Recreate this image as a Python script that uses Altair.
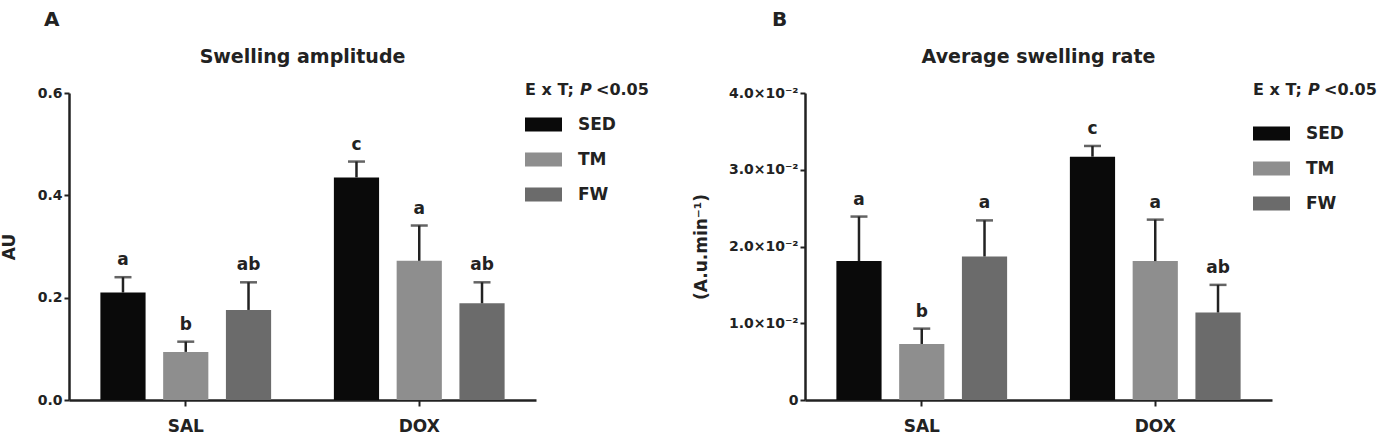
import altair as alt
import pandas as pd

# ---------------- data ----------------
groups = ["SAL", "SAL", "SAL", "DOX", "DOX", "DOX"]
treatments = ["SED", "TM", "FW", "SED", "TM", "FW"]
treat_order = ["SED", "TM", "FW"]
group_order = ["SAL", "DOX"]
bar_colors = ["#0a0a0a", "#8e8e8e", "#6b6b6b"]

amp_mean = [0.210, 0.094, 0.176, 0.435, 0.272, 0.189]
amp_err = [0.030, 0.020, 0.054, 0.031, 0.069, 0.041]
amp_letters = ["a", "b", "ab", "c", "a", "ab"]
amp_ticks = [0.0, 0.2, 0.4, 0.6]

rate_mean = [0.0181, 0.0073, 0.0187, 0.0317, 0.0181, 0.0114]
rate_err = [0.0058, 0.0020, 0.0047, 0.0014, 0.0054, 0.0036]
rate_letters = ["a", "b", "a", "c", "a", "ab"]
rate_ticks = [0.0, 0.01, 0.02, 0.03, 0.04]

FONT = "DejaVu Sans"
INK = "#222222"
W, H = 467, 307
LEGEND_SHAPE = "M-1,-0.38H1V0.38H-1Z"


def text_layer(text, x, y, size, style="normal", align="left"):
    return alt.Chart(pd.DataFrame({"t": [text]})).mark_text(
        font=FONT, fontSize=size, fontWeight="bold", fontStyle=style,
        color=INK, align=align, baseline="middle"
    ).encode(text="t:N", x=alt.value(x), y=alt.value(y))


def panel(mean, err, letters, ticks, ymax, label_expr, tick_size,
          ytitle, ytitle_x, ytitle_size, title, panel_label, label_x,
          legend_x, legend_y):
    df = pd.DataFrame({
        "group": groups,
        "treatment": treatments,
        "mean": mean,
        "top": [m + e for m, e in zip(mean, err)],
        "letter": letters,
    })
    base = alt.Chart(df)
    x = alt.X(
        "group:N", sort=group_order,
        scale=alt.Scale(paddingInner=0, paddingOuter=0),
        axis=alt.Axis(
            title=None, labelAngle=0, labelFont=FONT, labelFontSize=17,
            labelFontWeight="bold", labelColor=INK, labelPadding=12,
            domainColor=INK, domainWidth=2.5, tickColor=INK, tickWidth=2,
            tickSize=6,
        ),
    )
    xo = alt.XOffset("treatment:N", sort=treat_order,
                     scale=alt.Scale(paddingInner=0.28, paddingOuter=0.5))
    yscale = alt.Scale(domain=[0, ymax], nice=False, zero=True)
    yaxis = alt.Axis(
        title=ytitle, values=ticks, labelExpr=label_expr, grid=False,
        labelFont=FONT, labelFontSize=tick_size, labelFontWeight="bold",
        labelColor=INK, labelPadding=2, domainColor=INK, domainWidth=2.5,
        tickColor=INK, tickWidth=2, tickSize=5,
        titleFont=FONT, titleFontSize=ytitle_size, titleFontWeight="bold",
        titleColor=INK, titleX=ytitle_x, titleY=H / 2,
    )
    y_mean = alt.Y("mean:Q", scale=yscale, axis=yaxis)
    y_top = alt.Y("top:Q", scale=yscale, axis=yaxis)

    bars = base.mark_bar().encode(
        x=x, xOffset=xo, y=y_mean,
        color=alt.Color(
            "treatment:N", sort=treat_order,
            scale=alt.Scale(domain=treat_order, range=bar_colors),
            legend=alt.Legend(
                orient="none", legendX=legend_x, legendY=legend_y, title=None,
                symbolType=LEGEND_SHAPE, symbolSize=1369, symbolStrokeWidth=0,
                labelFont=FONT, labelFontSize=17, labelFontWeight="bold",
                labelColor=INK, labelOffset=16, rowPadding=8,
            ),
        ),
    )
    stems = base.mark_rule(color=INK, strokeWidth=2.5).encode(
        x=x, xOffset=xo, y=y_mean, y2="top:Q")
    caps = base.mark_tick(color=INK, size=17, thickness=2.5).encode(
        x=x, xOffset=xo, y=y_top)
    sig = base.mark_text(
        font=FONT, fontSize=17, fontWeight="bold", color=INK,
        baseline="middle", dy=-17,
    ).encode(x=x, xOffset=xo, y=y_top, text="letter:N")

    layers = [
        bars, stems, caps, sig,
        text_layer(panel_label, label_x, -73, 20),
        text_layer(title, W / 2, -36, 19, align="center"),
        text_layer("E x T;", legend_x, -3, 16),
        text_layer("P", legend_x + 55, -3, 16, style="italic"),
        text_layer("<0.05", legend_x + 71, -3, 16),
    ]
    return alt.layer(*layers).properties(width=W, height=H)


label_a = "format(datum.value, '.1f')"
label_b = "datum.value == 0 ? '0' : format(datum.value * 100, '.1f') + '\u00d710\u207b\u00b2'"

panel_a = panel(amp_mean, amp_err, amp_letters, amp_ticks, 0.6, label_a, 14,
                "AU", -51, 17, "Swelling amplitude", "A", -25, 456, 13)
panel_b = panel(rate_mean, rate_err, rate_letters, rate_ticks, 0.04, label_b, 14,
                "(A.u.min\u207b\u00b9)", -95, 17, "Average swelling rate", "B",
                -33, 448, 22)

chart = alt.hconcat(panel_a, panel_b, spacing=43).resolve_scale(
    color="independent", x="independent", y="independent", xOffset="independent"
).resolve_legend(color="independent").properties(
    padding={"left": 0, "top": 10, "right": 0, "bottom": 0},
    background="white",
).configure_view(stroke="transparent", strokeWidth=0)

chart.save("out.html", embed_options={"renderer": "svg", "actions": False})
